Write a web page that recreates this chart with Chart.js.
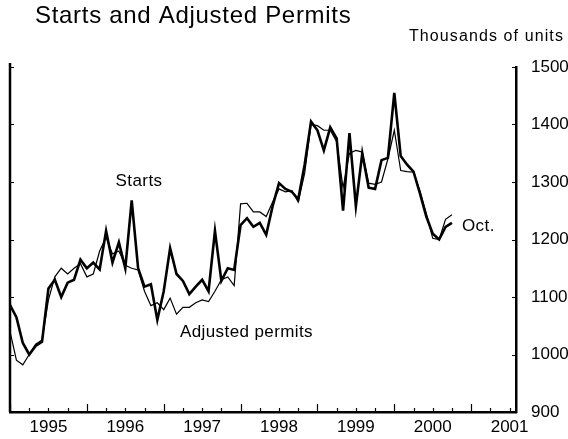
<!DOCTYPE html>
<html>
<head>
<meta charset="utf-8">
<script src="https://cdn.jsdelivr.net/npm/chart.js@4"></script>
<style>
  html, body { margin: 0; padding: 0; background: #fff; }
  #wrap { width: 568px; height: 439px; position: relative; }
</style>
</head>
<body>
<div id="wrap"><canvas id="chart"></canvas></div>
<script>
// monthly, Jan 1995 .. Oct 2000 (thousands of units, annual rate)
const starts = [
  1086, 1065, 1020, 1000, 1015, 1022, 1115, 1130, 1100, 1125, 1130, 1165,
  1150, 1160, 1148, 1215, 1160, 1195, 1150, 1268, 1150, 1118, 1122, 1060,
  1110, 1185, 1140, 1128, 1105, 1118, 1130, 1110, 1215, 1128, 1150, 1147,
  1225, 1237, 1222, 1229, 1208, 1258, 1298, 1288, 1283, 1270, 1330, 1405,
  1390, 1355, 1395, 1376, 1250, 1385, 1258, 1350, 1290, 1288, 1338, 1342,
  1455, 1345, 1330, 1318, 1280, 1240, 1210, 1200, 1222, 1229
];
const permits = [
  1040,  990,  982, 1000, 1018, 1025, 1095, 1135, 1150, 1140, 1150, 1158,
  1135, 1140, 1180, 1204, 1175, 1180, 1155, 1150, 1147, 1110, 1085, 1090,
  1078, 1098, 1070, 1082, 1082, 1090, 1095, 1092, 1110, 1130, 1135, 1120,
  1262, 1263, 1248, 1248, 1240, 1265, 1288, 1283, 1285, 1265, 1315, 1400,
  1398, 1390, 1390, 1370, 1290, 1350, 1355, 1352, 1298, 1296, 1300, 1340,
  1390, 1320, 1318, 1317, 1285, 1245, 1202, 1200, 1235, 1243
];
const yearLabels = ['1995', '1996', '1997', '1998', '1999', '2000', '2001'];
const yMin = 900, yMax = 1500, yStep = 100;
const xMax = 79; // months after Jan 1995 where the axis box ends

const FONT = '"Liberation Sans", Arial, Helvetica, sans-serif';

const toPoints = arr => arr.map((v, i) => ({ x: i, y: v }));

function text(ctx, str, x, y, size, spacing, align) {
  ctx.font = size + 'px ' + FONT;
  ctx.letterSpacing = spacing + 'px';
  ctx.textAlign = align || 'left';
  ctx.fillText(str, x, y);
}

// quarter ticks drawn inward, longer at year boundaries, plus the left frame line
const frame = {
  id: 'frame',
  afterDraw(chart) {
    const { ctx, chartArea: a, scales: { x, y } } = chart;
    ctx.save();
    ctx.strokeStyle = '#000';

    ctx.lineWidth = 2.5;
    ctx.beginPath();
    ctx.moveTo(a.left, a.top - 4);
    ctx.lineTo(a.left, a.bottom);
    ctx.stroke();

    ctx.lineWidth = 1.2;
    for (let m = 0; m <= xMax; m += 3) {
      const px = Math.round(x.getPixelForValue(m)) + 0.5;
      const len = m % 12 === 0 ? 8 : 4;
      ctx.beginPath();
      ctx.moveTo(px, a.bottom);
      ctx.lineTo(px, a.bottom - len);
      ctx.stroke();
    }
    for (let v = yMin; v <= yMax; v += yStep) {
      const py = Math.round(y.getPixelForValue(v)) + 0.5;
      ctx.beginPath();
      ctx.moveTo(a.right, py);
      ctx.lineTo(a.right - 4, py);
      ctx.moveTo(a.left, py);
      ctx.lineTo(a.left + 4, py);
      ctx.stroke();
    }

    ctx.fillStyle = '#000';
    ctx.textBaseline = 'middle';
    text(ctx, 'Starts and Adjusted Permits', 35, 16, 24, 0.7);
    text(ctx, 'Thousands of units', 409, 37, 16, 1.1);
    text(ctx, 'Starts', 139, 181, 17, 0.4, 'center');
    text(ctx, 'Adjusted permits', 180, 332, 17, 0.4);
    text(ctx, 'Oct.', 462, 226, 17, 0.4);
    ctx.restore();
  }
};

new Chart(document.getElementById('chart'), {
  type: 'line',
  data: {
    datasets: [
      { label: 'Starts', data: toPoints(starts), borderColor: '#000', borderWidth: 2.6,
        pointRadius: 0, tension: 0, fill: false },
      { label: 'Adjusted permits', data: toPoints(permits), borderColor: '#000', borderWidth: 1.2,
        pointRadius: 0, tension: 0, fill: false }
    ]
  },
  options: {
    responsive: true,
    maintainAspectRatio: false,
    animation: false,
    layout: { padding: { left: 10, top: 67, right: 0, bottom: 0 } },
    plugins: { legend: { display: false }, tooltip: { enabled: false } },
    scales: {
      x: {
        type: 'linear', min: 0, max: xMax,
        afterBuildTicks: s => { s.ticks = yearLabels.map((_, k) => ({ value: 6 + 12 * k })); },
        afterFit: s => { s.height = 27; },
        ticks: {
          callback: v => yearLabels[(v - 6) / 12],
          color: '#000', font: { family: FONT, size: 17 }, padding: -3,
          maxRotation: 0, autoSkip: false
        },
        grid: { display: false },
        border: { display: true, color: '#000', width: 2.5 }
      },
      y: {
        position: 'right', min: yMin, max: yMax,
        afterFit: s => { s.width = 52; },
        ticks: { stepSize: yStep, callback: v => String(v), color: '#000',
          font: { family: FONT, size: 17 }, padding: 7 },
        grid: { display: false },
        border: { display: true, color: '#000', width: 2.5 }
      }
    }
  },
  plugins: [frame]
});
</script>
</body>
</html>
